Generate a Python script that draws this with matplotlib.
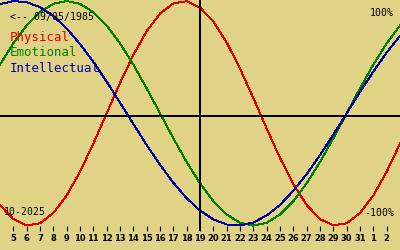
import matplotlib
matplotlib.use('Agg')
import matplotlib.pyplot as plt

# day of month (Oct 4 .. Nov 3, Nov days continue as 32, 33, 34)
days = list(range(4, 35))
physical = [-0.817, -0.942, -0.998, -0.979, -0.888, -0.731, -0.520, -0.270, 0.0, 0.270,
            0.520, 0.731, 0.888, 0.979, 0.998, 0.942, 0.817, 0.631, 0.398, 0.136,
            -0.136, -0.398, -0.631, -0.817, -0.942, -0.998, -0.979, -0.888, -0.731, -0.520,
            -0.270]
emotional = [0.434, 0.623, 0.782, 0.901, 0.975, 1.0, 0.975, 0.901, 0.782, 0.623,
             0.434, 0.222, 0.0, -0.222, -0.434, -0.623, -0.782, -0.901, -0.975, -1.0,
             -0.975, -0.901, -0.782, -0.623, -0.434, -0.222, 0.0, 0.222, 0.434, 0.623,
             0.782]
intellectual = [0.972, 0.999, 0.990, 0.945, 0.866, 0.756, 0.618, 0.458, 0.282, 0.095,
                -0.095, -0.282, -0.458, -0.618, -0.756, -0.866, -0.945, -0.990, -0.999, -0.972,
                -0.910, -0.815, -0.690, -0.541, -0.372, -0.189, 0.0, 0.189, 0.372, 0.541,
                0.690]
tick_days = list(range(5, 34))
tick_labels = [str(d) for d in range(5, 32)] + ['1', '2']
today = 19
birth = '<-- 09/05/1985'
month = '10-2025'

bg = '#e1d385'
mono = 'DejaVu Sans Mono'

fig = plt.figure(figsize=(4, 2.5), dpi=100, facecolor=bg)
ax = fig.add_axes([0, 19 / 250, 1, 231 / 250])
ax.set_facecolor(bg)

ax.plot(days, physical, color='#e00000', lw=0.7, antialiased=False)
ax.plot(days, emotional, color='#008000', lw=0.7, antialiased=False)
ax.plot(days, intellectual, color='#0000a0', lw=0.7, antialiased=False)
ax.axhline(-0.022, color='black', lw=1.2, antialiased=False)
ax.axvline(today, color='black', lw=1.2, antialiased=False)

ax.set_xlim(4, 34)
ax.set_ylim(-1.048, 1.009)
ax.set_yticks([])
ax.set_xticks(tick_days)
ax.set_xticklabels(tick_labels, fontsize=6, fontweight='bold')
ax.tick_params(axis='x', direction='in', length=3.6, width=0.8, pad=2.2, colors='black')
for s in ax.spines.values():
    s.set_visible(False)

fig.text(10 / 400, 1 - 17 / 250, birth, fontsize=7.1, family=mono, va='center', ha='left')
fig.text(394 / 400, 1 - 12.5 / 250, '100%', fontsize=7.1, family=mono, va='center', ha='right')
fig.text(4 / 400, 1 - 212 / 250, month, fontsize=7.1, family=mono, va='center', ha='left')
fig.text(394 / 400, 1 - 213 / 250, '-100%', fontsize=7.1, family=mono, va='center', ha='right')
for i, (name, col) in enumerate([('Physical', '#e00000'), ('Emotional', '#008000'),
                                 ('Intellectual', '#0000a0')]):
    fig.text(10 / 400, 1 - (38 + 15 * i) / 250, name, fontsize=8.9, family=mono,
             color=col, va='center', ha='left')

fig.savefig('out.png', dpi=100, facecolor=bg)
